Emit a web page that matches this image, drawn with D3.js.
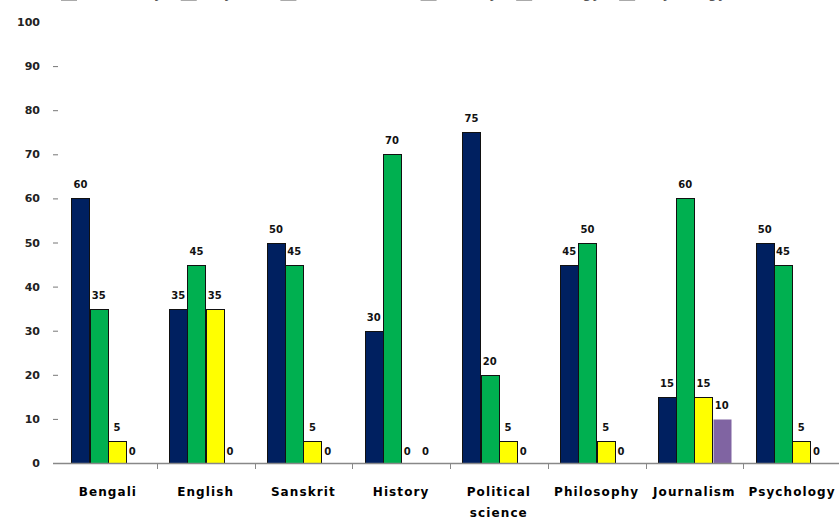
<!DOCTYPE html>
<html>
<head>
    <meta charset="utf-8" />
    <script src="https://d3js.org/d3.v7.min.js"></script>
    <style>
        body { margin: 0; background: #fff; }
        svg { display: block; }
    </style>
</head>
<body>
<script type="text/javascript">
    var w = 839,
        h = 518;

    // data
    var categories = ["Bengali", "English", "Sanskrit", "History", "Political science",
                      "Philosophy", "Journalism", "Psychology"];
    var seriesA = [60, 35, 50, 30, 75, 45, 15, 50];
    var seriesB = [35, 45, 45, 70, 20, 50, 60, 45];
    var seriesC = [5, 35, 5, 0, 5, 5, 15, 5];
    var seriesD = [0, 0, 0, 0, 0, 0, 10, 0];
    var legendNames = ["Chemistry", "Physics", "Mathematics", "Botany", "Zoology", "Physiology"];
    var yTicks = [0, 10, 20, 30, 40, 50, 60, 70, 80, 90, 100];

    var seriesList = [seriesA, seriesB, seriesC, seriesD];
    var colors = ["#002060", "#00b050", "#ffff00", "#8064a2"];
    var strokes = ["#111", "#111", "#111", "none"];

    var svg = d3.select("body")
                .append("svg")
                .attr("width", w)
                .attr("height", h);

    var x = d3.scaleBand()
              .domain(categories)
              .range([59, 841])
              .paddingInner(0);

    var xs = d3.scaleBand()
               .domain(d3.range(seriesList.length))
               .range([0, x.bandwidth()])
               .paddingInner(0)
               .paddingOuter(0.67);

    var y = d3.scaleLinear()
              .domain([0, 100])
              .range([463, 22]);

    // y axis labels + little dashes
    var yg = svg.append("g");
    yg.selectAll("text")
      .data(yTicks)
      .enter()
      .append("text")
      .attr("x", 40)
      .attr("y", function(d){ return y(d) + 4; })
      .attr("text-anchor", "end")
      .style("font-family", "DejaVu Sans")
      .style("font-size", "11px")
      .style("font-weight", "bold")
      .style("fill", "#222")
      .text(function(d){ return d; });

    yg.selectAll("line")
      .data(yTicks.slice(1, 10))
      .enter()
      .append("line")
      .attr("x1", 53).attr("x2", 58)
      .attr("y1", function(d){ return y(d) + 0.5; })
      .attr("y2", function(d){ return y(d) + 0.5; })
      .style("stroke", "#777");

    // bars (zero values get no bar, only a label)
    seriesList.forEach(function(vals, si){
        svg.append("g")
           .selectAll("rect")
           .data(vals.map(function(v, i){ return {v: v, c: categories[i]}; })
                     .filter(function(d){ return d.v > 0; }))
           .enter()
           .append("rect")
           .attr("x", function(d){ return Math.round(x(d.c) + xs(si)) + 0.5; })
           .attr("y", function(d){ return Math.round(y(d.v)) + 0.5; })
           .attr("width", Math.round(xs.bandwidth()))
           .attr("height", function(d){ return Math.round(y(0)) - Math.round(y(d.v)); })
           .style("fill", colors[si])
           .style("stroke", strokes[si])
           .style("stroke-width", 1);
    });

    // value labels
    seriesList.forEach(function(vals, si){
        svg.append("g")
           .selectAll("text")
           .data(vals.map(function(v, i){ return {v: v, c: categories[i]}; }))
           .enter()
           .append("text")
           .attr("x", function(d){ return x(d.c) + xs(si) + xs.bandwidth() / 2 - (d.v === 0 ? 3 : 0); })
           .attr("y", function(d){ return y(d.v) - (d.v === 0 ? 8 : 10); })
           .attr("text-anchor", "middle")
           .style("font-family", "DejaVu Sans")
           .style("font-size", "10px")
           .style("font-weight", "bold")
           .style("fill", "#111")
           .text(function(d){ return d.v; });
    });

    // x axis
    svg.append("line")
       .attr("x1", 53).attr("x2", w)
       .attr("y1", 463.5).attr("y2", 463.5)
       .style("stroke", "#888")
       .style("stroke-width", 1.5);

    svg.append("g")
       .selectAll("line")
       .data(categories.slice(1))
       .enter()
       .append("line")
       .attr("x1", function(d){ return Math.round(x(d)) + 0.5; })
       .attr("x2", function(d){ return Math.round(x(d)) + 0.5; })
       .attr("y1", 463).attr("y2", 469)
       .style("stroke", "#888");

    var cl = svg.append("g")
                .selectAll("text")
                .data(categories)
                .enter()
                .append("text")
                .attr("y", 496)
                .attr("text-anchor", "middle")
                .style("font-family", "DejaVu Sans")
                .style("font-size", "12px")
                .style("font-weight", "bold")
                .style("letter-spacing", "1.1px")
                .style("fill", "#000");

    cl.each(function(d){
        var t = d3.select(this);
        var cx = x(d) + x.bandwidth() / 2;
        d.split(" ").forEach(function(wd, k){
            t.append("tspan")
             .attr("x", cx)
             .attr("dy", k === 0 ? 0 : 21)
             .text(wd);
        });
    });

    // legend, mostly clipped by the top edge as in the source
    var items = svg.append("g")
                   .selectAll("g")
                   .data(legendNames)
                   .enter()
                   .append("g");
    items.append("text")
         .attr("y", -2)
         .style("font-family", "DejaVu Sans")
         .style("font-size", "12px")
         .style("font-weight", "bold")
         .style("letter-spacing", "1px")
         .style("fill", "#555")
         .text(function(d){ return d; });
    var pos = 85;
    items.each(function(d){
        var tw = this.querySelector("text").getComputedTextLength();
        d3.select(this).attr("transform", "translate(" + pos + ",0)");
        d3.select(this).append("rect")
          .attr("x", -24).attr("y", -8)
          .attr("width", 16).attr("height", 9)
          .style("fill", "#aaa");
        pos += tw + 42;
    });
</script>
</body>
</html>
